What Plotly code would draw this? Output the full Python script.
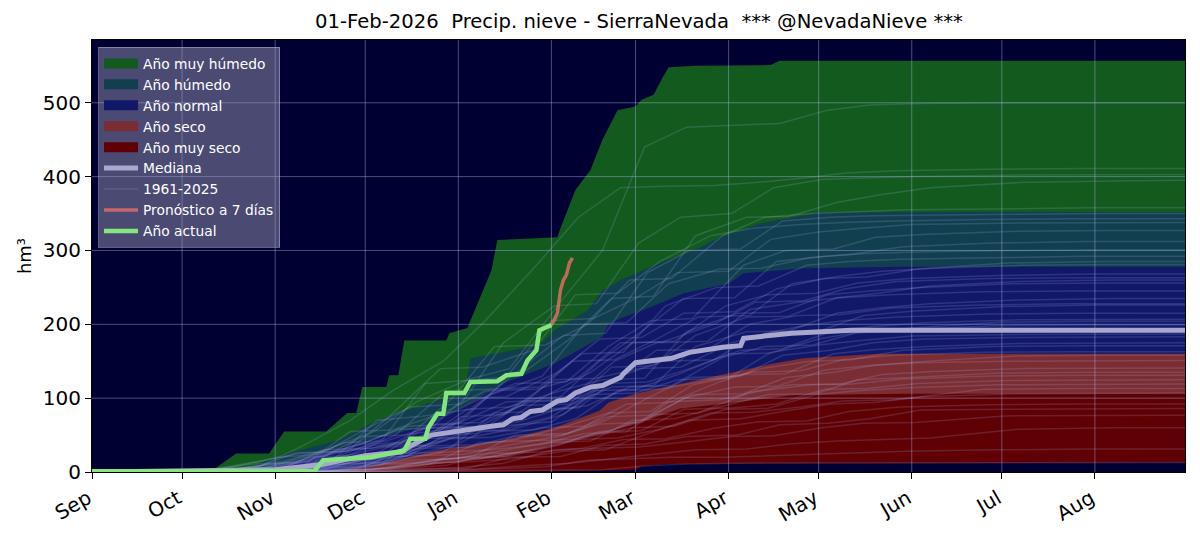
import pandas as pd
import plotly.graph_objects as go

# everything is season day (0 = 1 Sep), converted to dates further down
start = pd.Timestamp("2025-09-01")

months = ["Sep", "Oct", "Nov", "Dec", "Jan", "Feb", "Mar", "Apr", "May", "Jun", "Jul", "Aug"]
month_days = [0, 30, 61, 91, 122, 153, 181, 212, 242, 273, 303, 334]

# upper edge of each class
wet2_days = [0, 38, 40, 48, 59, 64, 78, 85, 88, 90, 98, 99, 102, 104, 118, 119, 125, 129, 133, 135, 146, 155, 156, 161, 166, 170, 175, 181, 183, 187, 190, 192, 201, 226, 229, 364]
wet2_vals = [0, 0, 2, 25, 25, 55, 55, 80, 80, 115, 115, 131, 131, 178, 178, 188, 195, 235, 273, 314, 316, 318, 330, 382, 409, 450, 490, 495, 504, 511, 534, 548, 550, 551, 557, 557]

wet_days = [0, 44, 55, 65, 82, 93, 104, 115, 124, 126, 149, 154, 165, 170, 176, 189, 203, 209, 223, 242, 270, 364]
wet_vals = [0, 0, 10, 25, 43, 66, 83, 97, 106, 154, 172, 192, 219, 246, 260, 283, 305, 318, 337, 351, 352, 352]

normal_days = [0, 50, 61, 65, 91, 109, 126, 137, 154, 170, 172, 176, 186, 197, 212, 217, 237, 270, 364]
normal_vals = [0, 0, 8, 12, 42, 60, 93, 120, 147, 183, 200, 208, 223, 242, 255, 269, 276, 278, 278]

dry_days = [0, 75, 91, 115, 137, 154, 169, 172, 181, 212, 227, 237, 262, 364]
dry_vals = [0, 0, 6, 29, 43, 60, 83, 94, 106, 133, 147, 154, 160, 160]

dry2_days = [0, 88, 100, 115, 137, 154, 170, 181, 196, 212, 233, 270, 364]
dry2_vals = [0, 0, 3, 11, 20, 38, 52, 65, 86, 93, 104, 106, 106]

floor_days = [0, 137, 170, 181, 183, 191, 364]
floor_vals = [0, 0, 2, 3, 8, 11, 13]

median_days = [0, 61, 76, 91, 103, 106, 113, 122, 133, 137, 140, 143, 146, 150, 155, 158, 161, 166, 170, 176, 177, 181, 193, 199, 210, 216, 217, 233, 253, 364]
median_vals = [0, 3, 10, 22, 27, 35, 50, 56, 62, 64, 72, 74, 82, 84, 96, 98, 107, 115, 117, 128, 133, 148, 154, 162, 169, 171, 181, 188, 192, 192]

actual_days = [0, 74, 77, 93, 104, 106, 111, 112, 115, 117, 118, 124, 126, 135, 138, 143, 145, 148, 149, 153]
actual_vals = [1, 1, 16, 20, 29, 45, 45, 60, 79, 79, 107, 107, 122, 123, 131, 133, 151, 165, 192, 199]

forecast_days = [153, 155, 156, 157, 158, 159, 160]
forecast_vals = [199, 215, 246, 260, 267, 283, 290]

# a sample of the past seasons, read at these days
hist_days = [0, 30, 44, 61, 75, 91, 105, 122, 136, 153, 167, 181, 195, 212, 226, 242, 256, 273, 303, 334, 364]
h01 = [0, 0, 3, 15, 30, 55, 95, 125, 140, 230, 300, 440, 467, 470, 472, 490, 497, 499, 500, 500, 500]
h02 = [0, 0, 0, 8, 35, 70, 110, 150, 205, 280, 345, 385, 387, 388, 392, 398, 405, 408, 410, 411, 411]
h03 = [0, 0, 5, 20, 24, 60, 88, 92, 175, 225, 228, 310, 345, 350, 385, 396, 398, 400, 402, 403, 403]
h04 = [0, 0, 0, 5, 20, 45, 120, 125, 130, 180, 235, 238, 320, 345, 346, 365, 375, 385, 392, 394, 395]
h05 = [0, 0, 1, 10, 18, 38, 40, 100, 170, 172, 200, 260, 262, 320, 345, 350, 352, 355, 356, 358, 358]
h06 = [0, 0, 0, 3, 12, 70, 75, 85, 130, 185, 188, 270, 300, 302, 340, 345, 347, 348, 349, 350, 350]
h07 = [0, 0, 2, 14, 25, 28, 75, 140, 142, 165, 240, 242, 285, 320, 330, 335, 338, 340, 342, 343, 343]
h08 = [0, 0, 0, 6, 22, 40, 62, 65, 118, 205, 208, 235, 270, 272, 315, 325, 330, 335, 337, 338, 338]
h09 = [0, 0, 0, 2, 10, 28, 60, 95, 120, 122, 170, 205, 208, 280, 300, 302, 318, 322, 326, 327, 327]
h10 = [0, 0, 1, 9, 15, 35, 58, 60, 105, 130, 200, 202, 255, 275, 276, 290, 295, 305, 310, 312, 312]
h11 = [0, 0, 0, 4, 30, 32, 45, 70, 95, 98, 150, 190, 235, 236, 285, 292, 296, 298, 300, 301, 301]
h12 = [0, 0, 0, 1, 7, 25, 50, 110, 112, 115, 160, 162, 225, 250, 252, 280, 285, 288, 290, 292, 292]
h13 = [0, 0, 3, 12, 20, 34, 36, 62, 90, 150, 152, 180, 210, 212, 255, 265, 272, 276, 280, 281, 281]
h14 = [0, 0, 0, 7, 14, 48, 50, 60, 62, 105, 135, 175, 177, 225, 240, 242, 256, 262, 266, 268, 268]
h15 = [0, 0, 0, 2, 8, 18, 38, 85, 88, 110, 125, 127, 190, 215, 216, 240, 245, 250, 255, 256, 256]
h16 = [0, 0, 0, 5, 26, 28, 35, 50, 72, 100, 102, 150, 175, 177, 220, 230, 236, 240, 244, 245, 245]
h17 = [0, 0, 1, 3, 8, 24, 60, 62, 68, 90, 115, 117, 170, 190, 191, 215, 222, 228, 233, 235, 235]
h18 = [0, 0, 0, 0, 6, 16, 30, 75, 78, 125, 127, 140, 142, 175, 190, 192, 212, 218, 224, 226, 226]
h19 = [0, 0, 0, 3, 20, 22, 28, 42, 60, 85, 87, 130, 150, 152, 185, 198, 205, 210, 214, 215, 215]
h20 = [0, 0, 0, 1, 5, 15, 45, 47, 58, 78, 120, 122, 140, 165, 167, 190, 197, 202, 206, 207, 207]
h21 = [0, 0, 0, 2, 7, 12, 20, 35, 80, 82, 90, 115, 117, 155, 170, 172, 188, 193, 198, 199, 199]
h22 = [0, 0, 0, 0, 14, 16, 22, 60, 62, 68, 105, 107, 125, 127, 162, 172, 178, 184, 186, 187, 187]
h23 = [0, 0, 0, 1, 4, 9, 35, 37, 44, 62, 80, 82, 118, 132, 133, 160, 166, 170, 174, 175, 175]
h24 = [0, 0, 0, 0, 2, 8, 15, 26, 55, 57, 72, 110, 112, 125, 135, 137, 152, 158, 162, 163, 163]
h25 = [0, 0, 0, 1, 3, 20, 22, 24, 36, 48, 65, 67, 100, 115, 116, 138, 144, 148, 150, 151, 151]
h26 = [0, 0, 0, 0, 2, 5, 10, 40, 42, 44, 58, 78, 80, 108, 118, 119, 132, 136, 140, 141, 141]
h27 = [0, 0, 0, 0, 1, 4, 25, 27, 30, 38, 52, 54, 95, 98, 110, 118, 119, 126, 130, 131, 131]
h28 = [0, 0, 0, 0, 1, 3, 8, 14, 22, 34, 48, 60, 62, 85, 86, 105, 110, 114, 118, 119, 119]
h29 = [0, 0, 0, 0, 0, 10, 12, 14, 18, 28, 30, 52, 70, 72, 82, 92, 94, 102, 106, 107, 107]
h30 = [0, 0, 0, 0, 0, 1, 4, 9, 25, 27, 32, 44, 45, 60, 68, 69, 82, 88, 91, 92, 92]
h31 = [0, 0, 0, 0, 0, 1, 3, 6, 12, 30, 32, 34, 40, 48, 49, 60, 66, 67, 76, 77, 77]
h32 = [0, 0, 0, 0, 0, 0, 2, 4, 8, 12, 18, 24, 30, 31, 38, 42, 44, 46, 58, 60, 60]
h33 = [0, 0, 0, 0, 0, 0, 1, 2, 4, 7, 16, 18, 20, 20, 22, 24, 26, 28, 30, 31, 31]
h34 = [0, 0, 0, 0, 0, 0, 0, 1, 2, 3, 3, 8, 11, 12, 12, 13, 13, 13, 13, 13, 13]
h35 = [0, 0, 0, 3, 8, 55, 57, 80, 110, 112, 128, 175, 176, 200, 230, 232, 248, 258, 262, 263, 263]
h36 = [0, 0, 4, 6, 22, 36, 38, 100, 102, 135, 180, 182, 215, 217, 248, 262, 264, 275, 283, 285, 285]
h37 = [0, 0, 0, 0, 11, 13, 50, 52, 90, 92, 142, 144, 185, 210, 211, 236, 242, 252, 258, 260, 260]
h38 = [0, 0, 2, 11, 13, 40, 42, 65, 67, 95, 97, 125, 165, 166, 200, 212, 213, 222, 226, 228, 228]
h39 = [0, 0, 0, 6, 7, 24, 26, 55, 57, 75, 110, 112, 132, 160, 161, 180, 190, 195, 203, 204, 204]
h40 = [0, 0, 0, 1, 16, 18, 32, 34, 48, 50, 70, 100, 128, 130, 158, 165, 175, 180, 182, 183, 183]
h41 = [0, 0, 0, 0, 5, 7, 18, 45, 47, 60, 62, 92, 94, 122, 140, 150, 152, 165, 170, 171, 171]
h42 = [0, 0, 0, 2, 3, 12, 14, 22, 50, 52, 75, 77, 105, 106, 128, 135, 145, 150, 157, 158, 158]
h43 = [0, 0, 0, 0, 0, 6, 16, 18, 28, 40, 42, 70, 72, 90, 105, 106, 125, 128, 134, 135, 135]
h44 = [0, 0, 0, 0, 2, 3, 12, 20, 21, 36, 55, 56, 85, 87, 92, 112, 113, 120, 124, 125, 125]
h45 = [0, 0, 0, 0, 0, 2, 5, 18, 19, 30, 44, 46, 58, 80, 81, 88, 96, 98, 112, 113, 113]
h46 = [0, 0, 0, 0, 0, 0, 4, 5, 20, 21, 36, 38, 48, 50, 64, 66, 72, 84, 85, 86, 86]
hist = [h01, h02, h03, h04, h05, h06, h07, h08, h09, h10, h11, h12, h13, h14, h15, h16, h17, h18, h19, h20, h21, h22, h23,
        h24, h25, h26, h27, h28, h29, h30, h31, h32, h33, h34, h35, h36, h37, h38, h39, h40, h41, h42, h43, h44, h45, h46]
# the storms don't land on the same day every year
hist_shift = [3, -5, 1, 6, -2, 4, -6, 0, 5, -3, 2, -4, 7, -1, 3, -7, 6, 1, -5, 4, -2, 0, 5, -6, 2, 7, -3, -1, 4, -4, 1, 6, -2, 3, -5, 2, 6, -7, 0, 4, -3, 5, -1, 2, -6, 3]


def dates(days):
    return start + pd.to_timedelta(days, unit="D")


bg = "#000032"
fig = go.Figure()

# bands drawn big to small so each one covers the one before
bands = [
    ("Año muy húmedo", wet2_days, wet2_vals, "#135a1e"),
    ("Año húmedo", wet_days, wet_vals, "#123f50"),
    ("Año normal", normal_days, normal_vals, "#121868"),
    ("Año seco", dry_days, dry_vals, "#7a2d33"),
    ("Año muy seco", dry2_days, dry2_vals, "#5e0004"),
]
for name, d, v, col in bands:
    fig.add_trace(go.Scatter(x=dates(d), y=v, mode="lines", fill="tozeroy", fillcolor=col,
                             line=dict(width=0, color=col), showlegend=False, hoverinfo="skip"))
fig.add_trace(go.Scatter(x=dates(floor_days), y=floor_vals, mode="lines", fill="tozeroy", fillcolor=bg,
                         line=dict(width=0, color=bg), showlegend=False, hoverinfo="skip"))

# legend swatches: the fill swatch of a scatter is only a few px tall, a thick empty line looks like the patch
for rank, (name, d, v, col) in enumerate(bands):
    fig.add_trace(go.Scatter(x=[None], y=[None], name=name, mode="lines", line=dict(width=11, color=col),
                             legendrank=rank + 1, hoverinfo="skip"))

# plotly keeps its own grid under the traces, here it has to sit on the bands
grid = "rgba(175,185,240,0.42)"
for d in month_days[1:]:
    fig.add_trace(go.Scatter(x=dates([d, d]), y=[0, 585], mode="lines", line=dict(width=1, color=grid),
                             showlegend=False, hoverinfo="skip"))
for v in [100, 200, 300, 400, 500]:
    fig.add_trace(go.Scatter(x=dates([0, 364]), y=[v, v], mode="lines", line=dict(width=1, color=grid),
                             showlegend=False, hoverinfo="skip"))

for i, h in enumerate(hist):
    d = [max(0, x + hist_shift[i]) for x in hist_days]
    d[-1] = 364
    fig.add_trace(go.Scatter(x=dates(d), y=h, name="1961-2025", mode="lines",
                             line=dict(width=1.5, color="rgba(190,200,255,0.16)"),
                             showlegend=i == 0, legendrank=7, hoverinfo="skip"))

fig.add_trace(go.Scatter(x=dates(median_days), y=median_vals, name="Mediana", mode="lines",
                         line=dict(width=5, color="#a8a8cf"), legendrank=6))
fig.add_trace(go.Scatter(x=dates(forecast_days), y=forecast_vals, name="Pronóstico a 7 días", mode="lines",
                         line=dict(width=3.5, color="rgba(235,112,105,0.78)"), legendrank=8))
fig.add_trace(go.Scatter(x=dates(actual_days), y=actual_vals, name="Año actual", mode="lines",
                         line=dict(width=4.5, color="#84e67c"), legendrank=9))

# the page has an 8px body margin, so the figure is 8px smaller than the window
fig.update_layout(
    width=1192, height=528, paper_bgcolor="white", plot_bgcolor=bg,
    font=dict(family="DejaVu Sans", color="black", size=20),
    margin=dict(l=84, r=15, t=32, b=64),
    title=dict(text="01-Feb-2026\u00a0\u00a0Precip. nieve - SierraNevada\u00a0\u00a0*** @NevadaNieve ***",
               x=631 / 1192, xanchor="center", y=0.975, yanchor="middle", font=dict(size=19.6)),
    legend=dict(x=0.0055, y=0.984, xanchor="left", yanchor="top", bgcolor="rgba(165,165,195,0.45)",
                bordercolor="rgba(190,190,215,0.5)", borderwidth=1, font=dict(size=13.8, color="white"),
                tracegroupgap=0, itemwidth=34),
)
fig.update_xaxes(range=[dates([0])[0], dates([364])[0]], tickmode="array", tickvals=dates(month_days),
                 ticktext=months, tickangle=-30, ticks="outside", ticklen=6, tickcolor="black", ticklabelshift=-4,
                 showgrid=False, showline=True, linecolor="black", linewidth=1, mirror=True, zeroline=False,
                 automargin=False)
fig.update_yaxes(range=[0, 585], tickvals=[0, 100, 200, 300, 400, 500], ticks="outside", ticklen=6,
                 tickcolor="black", showgrid=False, showline=True, linecolor="black", linewidth=1, mirror=True,
                 zeroline=False, title=dict(text="hm³", font=dict(size=18), standoff=6))

fig.write_html("out.html")
